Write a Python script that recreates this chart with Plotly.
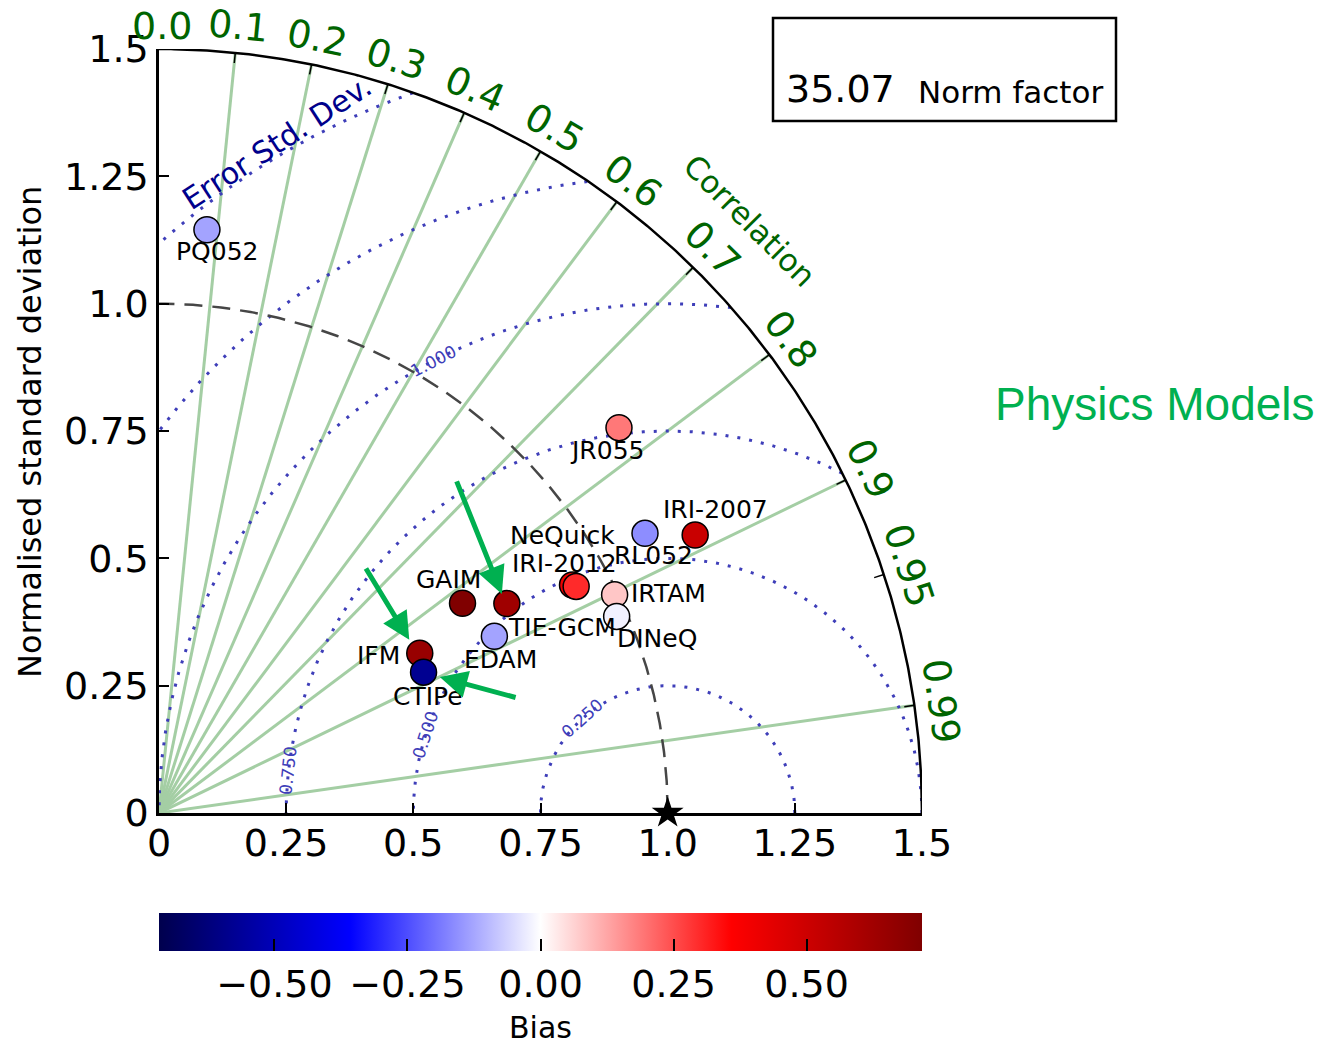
import numpy as np
import plotly.graph_objects as go

# ---------------- data ----------------
models = ["PQ052", "JR055", "IRI-2007", "RL052", "NeQuick", "IRI-2012", "IRTAM",
          "DINeQ", "GAIM", "TIE-GCM", "EDAM", "IFM", "CTIPe"]
norm_std = [1.149, 1.179, 1.187, 1.102, 0.928, 0.933, 0.993,
            0.979, 0.725, 0.798, 0.745, 0.601, 0.589]
correlation = [0.082, 0.767, 0.888, 0.867, 0.876, 0.879, 0.902,
               0.919, 0.823, 0.857, 0.885, 0.853, 0.883]
bias = [-0.13, 0.19, 0.51, -0.16, 0.40, 0.30, 0.08,
        -0.02, 0.717, 0.63, -0.13, 0.65, -0.58]

corr_ticks = [0.0, 0.1, 0.2, 0.3, 0.4, 0.5, 0.6, 0.7, 0.8, 0.9, 0.95, 0.99]
corr_tick_labels = ["0.0", "0.1", "0.2", "0.3", "0.4", "0.5", "0.6", "0.7", "0.8", "0.9", "0.95", "0.99"]
corr_lines = [0.1, 0.2, 0.3, 0.4, 0.5, 0.6, 0.7, 0.8, 0.9, 0.99]
rms_levels = [0.25, 0.5, 0.75, 1.0, 1.25, 1.5]
rms_labels = ["0.250", "0.500", "0.750", "1.000"]
std_ticks = [0, 0.25, 0.5, 0.75, 1.0, 1.25, 1.5]
std_tick_labels = ["0", "0.25", "0.5", "0.75", "1.0", "1.25", "1.5"]
bias_ticks = [-0.5, -0.25, 0.0, 0.25, 0.5]
norm_factor = 35.07
ref_std = 1.0
max_std = 1.5

# ---------------- layout helpers (pixel offsets / placements) ----------------
label_dx = [10, -12, 20, 8, -10, -12, 54, 40, -14, 55, 6, -41, 4]
label_dy = [-22, -23, 25, -22, 50, 23, 1, -22, 24, -24, -23, -2, -24]
rms_label_angle = [132, 162, 173.6, 117.4]  # degrees around the reference point

seismic = [[0.0, "rgb(0,0,77)"], [0.25, "rgb(0,0,255)"], [0.5, "rgb(255,255,255)"],
           [0.75, "rgb(255,0,0)"], [1.0, "rgb(128,0,0)"]]
green_dark = "rgb(0,100,0)"
line_green = "rgb(164,206,164)"
rms_color = "rgb(62,62,185)"
ppt_green = "rgb(0,176,80)"
FONT = "DejaVu Sans"


def to_paper(v):
    return v / max_std


fig = go.Figure()

# correlation lines
xs, ys = [], []
for c in corr_lines:
    th = np.arccos(c)
    xs += [0, max_std * np.cos(th), None]
    ys += [0, max_std * np.sin(th), None]
fig.add_trace(go.Scatter(x=xs, y=ys, mode="lines", line=dict(color=line_green, width=3),
                         hoverinfo="skip"))

# RMS contours around the reference point
for r in rms_levels:
    phi = np.linspace(0, np.pi, 1500)
    cx = ref_std + r * np.cos(phi)
    cy = r * np.sin(phi)
    ok = (cx >= 0) & (np.hypot(cx, cy) <= max_std)
    cx = np.where(ok, cx, np.nan)
    cy = np.where(ok, cy, np.nan)
    fig.add_trace(go.Scatter(x=cx, y=cy, mode="lines", connectgaps=False,
                             line=dict(color=rms_color, width=3, dash="3px,9px"),
                             hoverinfo="skip"))

# reference std arc (dashed)
t = np.linspace(0, np.pi / 2, 400)
fig.add_trace(go.Scatter(x=ref_std * np.cos(t), y=ref_std * np.sin(t), mode="lines",
                         line=dict(color="rgb(70,70,70)", width=2.5, dash="18px,10px"),
                         hoverinfo="skip"))

# outer arc
fig.add_trace(go.Scatter(x=max_std * np.cos(t), y=max_std * np.sin(t), mode="lines",
                         line=dict(color="black", width=2.5), hoverinfo="skip", cliponaxis=False))

# ticks on outer arc
tx, ty = [], []
for c in corr_ticks[1:]:
    th = np.arccos(c)
    tx += [1.48 * np.cos(th), max_std * np.cos(th), None]
    ty += [1.48 * np.sin(th), max_std * np.sin(th), None]
fig.add_trace(go.Scatter(x=tx, y=ty, mode="lines", line=dict(color="black", width=1.5),
                         hoverinfo="skip"))

# reference star
fig.add_trace(go.Scatter(x=[ref_std], y=[0], mode="markers", cliponaxis=False,
                         marker=dict(symbol="star", size=24, color="black"), hoverinfo="skip"))

# model points
px = [s * c for s, c in zip(norm_std, correlation)]
py = [s * np.sin(np.arccos(c)) for s, c in zip(norm_std, correlation)]
cm = max(abs(b) for b in bias)
fig.add_trace(go.Scatter(
    x=px, y=py, mode="markers", cliponaxis=False, text=models,
    marker=dict(size=26, color=bias, colorscale=seismic, cmin=-cm, cmax=cm,
                line=dict(color="black", width=1.5), showscale=True,
                colorbar=dict(orientation="h", x=0.5, xanchor="center",
                              y=(813 - 913) / 764, yanchor="top",
                              len=1, lenmode="fraction", thickness=38, thicknessmode="pixels",
                              outlinewidth=0, xpad=0, ypad=0,
                              ticks="inside", ticklen=12, tickwidth=1.5, tickcolor="black",
                              tickvals=bias_ticks, tickformat=".2f",
                              tickfont=dict(size=38, family=FONT, color="black"))),
))

ann = []
# point labels
for name, x, y, dx, dy in zip(models, px, py, label_dx, label_dy):
    ann.append(dict(x=x, y=y, text=name, showarrow=False, xshift=dx, yshift=dy,
                    xanchor="center", yanchor="middle",
                    font=dict(size=25, family=FONT, color="black")))

# correlation tick labels (paper coords so that they are not hidden outside the range)
for c, lab in zip(corr_ticks, corr_tick_labels):
    th = np.arccos(c)
    rr = 1.552 if c > 0 else 1.545
    ann.append(dict(xref="paper", yref="paper",
                    x=to_paper(rr * np.cos(th)), y=to_paper(rr * np.sin(th)),
                    text=lab, showarrow=False, xanchor="center", yanchor="middle",
                    textangle=90 - np.degrees(th), xshift=3 if c == 0 else 0,
                    font=dict(size=38, family=FONT, color=green_dark)))

ann.append(dict(xref="paper", yref="paper",
                x=to_paper(1.643 * np.cos(np.radians(45))), y=to_paper(1.643 * np.sin(np.radians(45))),
                text="Correlation", showarrow=False, textangle=45,
                xanchor="center", yanchor="middle",
                font=dict(size=31, family=FONT, color=green_dark)))
ann.append(dict(x=0.232, y=1.316, text="Error Std. Dev.", showarrow=False, textangle=-33,
                xanchor="center", yanchor="middle",
                font=dict(size=30, family=FONT, color="rgb(0,0,139)")))

# rms contour labels
for r, lab, ang in zip(rms_levels, rms_labels, rms_label_angle):
    a = np.radians(ang)
    ann.append(dict(x=ref_std + r * np.cos(a), y=r * np.sin(a), text=lab, showarrow=False,
                    textangle=-(ang - 90), xanchor="center", yanchor="middle",
                    font=dict(size=17, family=FONT, color=rms_color)))

# green arrows (tail -> head) in data units
arrows = [((0.405, 0.483), (0.492, 0.340)),
          ((0.584, 0.654), (0.674, 0.430)),
          ((0.704, 0.226), (0.552, 0.267))]
for (ax_, ay_), (hx, hy) in arrows:
    ann.append(dict(x=hx, y=hy, ax=ax_, ay=ay_, axref="x", ayref="y", xref="x", yref="y",
                    text="", showarrow=True, arrowhead=2, arrowsize=1.1, arrowwidth=5,
                    arrowcolor=ppt_green, standoff=0))

# y title
ann.append(dict(xref="paper", yref="paper", x=(30 - 159) / 763, y=0.4987,
                xanchor="center", yanchor="middle",
                text="Normalised standard deviation", showarrow=False, textangle=-90,
                font=dict(size=32, family=FONT, color="black")))

# colorbar title
ann.append(dict(xref="paper", yref="paper", x=0.5, y=(813 - 1027) / 764,
                xanchor="center", yanchor="middle", text="Bias", showarrow=False,
                font=dict(size=30, family=FONT, color="black")))

# norm factor box text
ann.append(dict(xref="paper", yref="paper", x=(840 - 159) / 763, y=(813 - 89) / 764,
                xanchor="center", yanchor="middle",
                text=f"{norm_factor:.2f}", showarrow=False,
                font=dict(size=38, family=FONT, color="black")))
ann.append(dict(xref="paper", yref="paper", x=(1010 - 159) / 763, y=(813 - 92) / 764,
                xanchor="center", yanchor="middle",
                text="Norm factor", showarrow=False,
                font=dict(size=31, family=FONT, color="black")))

# Physics Models
ann.append(dict(xref="paper", yref="paper", x=(1155 - 159) / 763, y=(813 - 404) / 764,
                xanchor="center", yanchor="middle",
                text="Physics Models", showarrow=False,
                font=dict(size=46, family="Liberation Sans", color=ppt_green)))

fig.update_layout(
    width=1328, height=1045, autosize=False,
    margin=dict(l=159, r=406, t=49, b=232),
    plot_bgcolor="white", paper_bgcolor="white", showlegend=False,
    font=dict(family=FONT, color="black"),
    annotations=ann,
    shapes=[dict(type="rect", xref="paper", yref="paper",
                 x0=(773 - 159) / 763, x1=(1116 - 159) / 763,
                 y0=(813 - 121) / 764, y1=(813 - 18) / 764,
                 line=dict(color="black", width=2.5), fillcolor="rgba(0,0,0,0)")],
)
axis_common = dict(range=[0, max_std], tickvals=std_ticks, ticktext=std_tick_labels,
                   ticks="inside", ticklen=10, tickwidth=1.5, tickcolor="black",
                   showline=True, linecolor="black", linewidth=2.5,
                   showgrid=False, zeroline=False,
                   tickfont=dict(size=38, family=FONT, color="black"))
fig.update_xaxes(**axis_common, ticklabelstandoff=-5)
fig.update_yaxes(**axis_common)

fig.write_html("out.html")
